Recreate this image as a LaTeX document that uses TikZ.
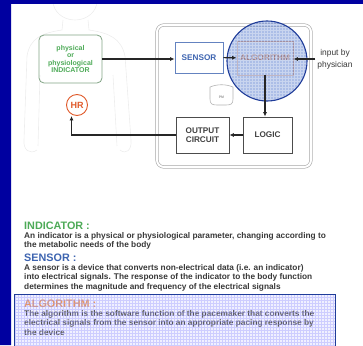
\documentclass[tikz,border=0pt]{standalone}
\usepackage{fontspec}
\setmainfont{Liberation Sans}
\usetikzlibrary{arrows.meta}
\definecolor{navy}{HTML}{0000A0}
\definecolor{indgreen}{HTML}{4DAA57}
\definecolor{senblue}{HTML}{3D64B0}
\definecolor{algorange}{HTML}{E07A3A}
\definecolor{hrred}{HTML}{E05A2B}
\definecolor{lensblue}{HTML}{1F3C99}
\definecolor{lensfill}{HTML}{5A7ED0}
\definecolor{txtgray}{HTML}{383838}

\begin{document}
\begin{tikzpicture}[x=1pt,y=-1pt,
  box/.style={draw=#1,line width=.8pt,inner sep=0pt,align=center,font=\bfseries\fontsize{8.2}{9.5}\selectfont},
  arr/.style={-{Latex[length=4.5pt,width=4pt]},line width=1.1pt,draw=black!85},
  para/.style={anchor=north west,inner sep=0pt,align=left,text=txtgray,font=\bfseries\fontsize{8.3}{9.4}\selectfont},
  head/.style={anchor=west,inner sep=0pt,font=\bfseries\fontsize{10.8}{12}\selectfont}]
\useasboundingbox (0,0) rectangle (363,345);
% faint body behind the indicator
\draw[black!7,line width=.6pt] (75,1) ellipse (22 and 19);
\draw[black!7,line width=.6pt] (63,20)--(62,30) .. controls (42,33) and (30,38) .. (27,56) -- (24,140) .. controls (23,150) and (30,155) .. (37,150)
  (88,20)--(89,30) .. controls (109,33) and (121,38) .. (125,56) -- (131,140) .. controls (132,150) and (126,155) .. (120,150)
  (40,75)--(38,146) (113,75)--(117,146);
% pacemaker
\draw[draw=black!35,double=white,double distance=2pt,line width=.6pt,rounded corners=7pt](157,25)rectangle(311,167);
\draw[black!30,line width=.6pt] (210,87) .. controls (217,84) and (226,84) .. (233,87) -- (233,99) .. controls (233,104) and (231,105) .. (226,105) -- (217,105) .. controls (212,105) and (210,104) .. (210,99) -- cycle;
\node[black!40,font=\bfseries\fontsize{3.5}{4}\selectfont] (pm) at (221.5,97) {PM};
\node[box=senblue!80,text=senblue,minimum width=48pt,minimum height=31pt] (sensor) at (199,57.5) {SENSOR};
\node[box=algorange!70,text=algorange,minimum width=56pt,minimum height=34pt] (algo) at (265,58) {ALGORITHM};
\node[box=black!70,text=black!75,minimum width=53pt,minimum height=36pt] (out) at (202.5,135) {OUTPUT\\CIRCUIT};
\node[box=black!70,text=black!75,minimum width=49pt,minimum height=36pt] (logic) at (267.5,135) {LOGIC};
\node[box=indgreen!60!black!60,text=indgreen,rounded corners=5pt,minimum width=63pt,minimum height=48pt,font=\bfseries\fontsize{7}{7.4}\selectfont] (ind) at (70.5,59) {physical\\or\\physiological\\INDICATOR};
\node[circle,draw=hrred,line width=.9pt,fill=white,text=hrred,minimum size=21pt,inner sep=0pt,font=\bfseries\fontsize{9}{10}\selectfont] (hr) at (77,105) {HR};
\node[text=txtgray,align=center,inner sep=2pt,font=\fontsize{8.4}{12}\selectfont] (phys) at (335,59) {input by\\physician};
% magnifying lens
\begin{scope}
\clip (267,61) circle (40);
\fill[lensfill,fill opacity=.5] (227,21) rectangle (307,101);
\draw[white,line width=.35pt,opacity=.35,step=3pt] (225,19) grid (309,103);
\end{scope}
\draw[lensblue,line width=1.1pt] (267,61) circle (40);
\draw[arr] (ind.east) -- (ind.east -| sensor.west);
\draw[arr] (sensor) -- (algo);
\draw[arr] (phys.west) -- (phys.west -| algo.east);
\draw[arr] (algo.south) -- (algo.south |- logic.north);
\draw[arr] (logic) -- (out);
\draw[arr] (out.west) -| ([xshift=-5.5pt]hr.south);
% text part
\node[head,text=indgreen] (indhead) at (24,226) {INDICATOR :};
\node[para] (indtxt) at (24,232) {An indicator is a physical or physiological parameter, changing according to\\the metabolic needs of the body};
\node[head,text=senblue] (senhead) at (24,258) {SENSOR :};
\node[para] (sentxt) at (24,264) {A sensor is a device that converts non-electrical data (i.e. an indicator)\\into electrical signals. The response of the indicator to the body function\\determines the magnitude and frequency of the electrical signals};
\fill[blue!6] (14,294) rectangle (335,346);
\node[head,text=algorange!80] (alghead) at (24,304) {ALGORITHM :};
\node[para,text=txtgray!85] (algtxt) at (24,310) {The algorithm is the software function of the pacemaker that converts the\\electrical signals from the sensor into an appropriate pacing response by\\the device};
\begin{scope}
\clip (14,294) rectangle (335,346);
\draw[blue!40,line width=.35pt,opacity=.4,step=3pt] (14,294) grid (336,347);
\end{scope}
\draw[lensblue,line width=.9pt] (14,350) -- (14,294) -- (335,294) -- (335,350);
% frame
\fill[navy] (0,0) rectangle (11,345) (0,0) rectangle (363,4);
\end{tikzpicture}
\end{document}
